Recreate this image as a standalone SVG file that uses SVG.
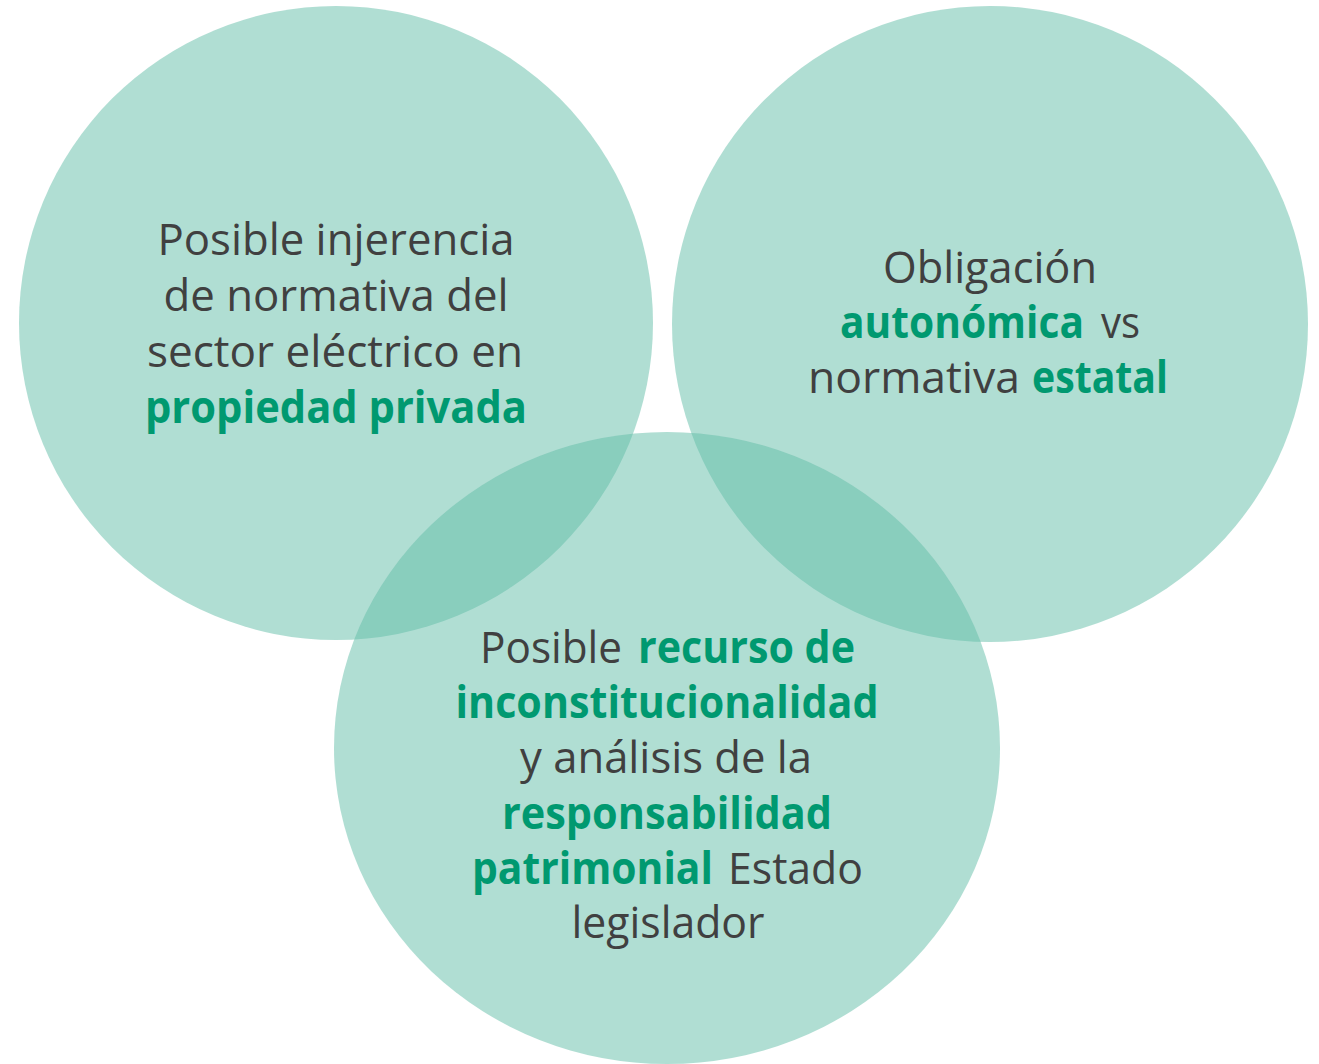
<svg xmlns="http://www.w3.org/2000/svg" width="1319" height="1064" viewBox="0 0 1319 1064">
<style>
.c{fill:#61bda7;fill-opacity:0.5}
.t{font-family:"Open Sans","Liberation Sans",sans-serif;font-size:44px;fill:#404040;text-anchor:middle}
.s{text-anchor:start}
.g{fill:#009970;font-weight:bold}
</style>
<rect width="1319" height="1064" fill="#ffffff"/>
<g id="node-left"><circle class="c" cx="336" cy="323" r="317"/></g>
<g id="node-right"><circle class="c" cx="990" cy="324" r="318"/></g>
<g id="node-bottom"><ellipse class="c" cx="667" cy="748" rx="333" ry="316"/></g>
<g id="connectors"></g>
<g id="labels">
<text class="t" x="336" y="255" textLength="357" lengthAdjust="spacingAndGlyphs">Posible injerencia</text>
<text class="t" x="336" y="311" textLength="345" lengthAdjust="spacingAndGlyphs">de normativa del</text>
<text class="t" x="335" y="367" textLength="376" lengthAdjust="spacingAndGlyphs">sector eléctrico en</text>
<text class="t g" x="336" y="423" textLength="382" lengthAdjust="spacingAndGlyphs">propiedad privada</text>
<text class="t" x="990" y="283" textLength="214" lengthAdjust="spacingAndGlyphs">Obligación</text>
<text class="t s g" x="840" y="338" textLength="244" lengthAdjust="spacingAndGlyphs">autonómica</text>
<text class="t s" x="1101" y="338" textLength="39" lengthAdjust="spacingAndGlyphs">vs</text>
<text class="t s" x="808" y="393" textLength="212" lengthAdjust="spacingAndGlyphs">normativa</text>
<text class="t s g" x="1032" y="393" textLength="136" lengthAdjust="spacingAndGlyphs">estatal</text>
<text class="t s" x="480" y="663" textLength="142" lengthAdjust="spacingAndGlyphs">Posible</text>
<text class="t s g" x="638" y="663" textLength="217" lengthAdjust="spacingAndGlyphs">recurso de</text>
<text class="t g" x="667" y="718" textLength="423" lengthAdjust="spacingAndGlyphs">inconstitucionalidad</text>
<text class="t" x="666" y="773" textLength="292" lengthAdjust="spacingAndGlyphs">y análisis de la</text>
<text class="t g" x="667" y="829" textLength="330" lengthAdjust="spacingAndGlyphs">responsabilidad</text>
<text class="t s g" x="472" y="884" textLength="241" lengthAdjust="spacingAndGlyphs">patrimonial</text>
<text class="t s" x="728" y="884" textLength="135" lengthAdjust="spacingAndGlyphs">Estado</text>
<text class="t" x="668" y="938" textLength="193" lengthAdjust="spacingAndGlyphs">legislador</text>
</g>
</svg>
